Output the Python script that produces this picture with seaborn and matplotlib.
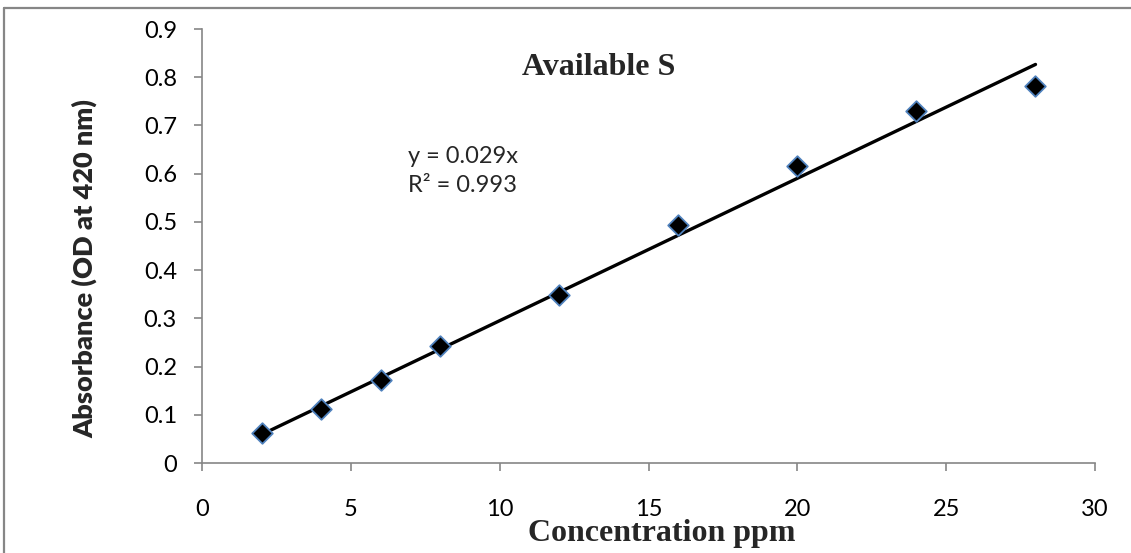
import numpy as np
import pandas as pd
import seaborn as sns
import matplotlib.pyplot as plt
from matplotlib.lines import Line2D

# standard curve readings
conc_ppm = [2, 4, 6, 8, 12, 16, 20, 24, 28]
absorbance = [0.062, 0.113, 0.172, 0.243, 0.349, 0.494, 0.615, 0.729, 0.781]
x_ticks = [0, 5, 10, 15, 20, 25, 30]
y_ticks = [0, 0.1, 0.2, 0.3, 0.4, 0.5, 0.6, 0.7, 0.8, 0.9]
eq_lines = ["y = 0.029x", "R² = 0.993"]

sns.set_theme(style="white")
plt.rcParams['font.family'] = ['Lato', 'DejaVu Sans']

df = pd.DataFrame({'conc': conc_ppm, 'od': absorbance})

# linear trend forced through zero
x = np.array(conc_ppm, dtype=float)
y = np.array(absorbance)
slope = np.sum(x * y) / np.sum(x * x)
fit = pd.DataFrame({'conc': [x.min(), x.max()], 'od': [slope * x.min(), slope * x.max()]})

fig = plt.figure(figsize=(11.31, 5.53), dpi=100)
ax = fig.add_axes([0.1786, 0.1627, 0.7896, 0.7848])

sns.lineplot(data=fit, x='conc', y='od', ax=ax, color='black', linewidth=2.4, zorder=2)
sns.scatterplot(data=df, x='conc', y='od', ax=ax, marker='D', s=110,
                color='black', edgecolor='#4f81bd', linewidth=1.3, zorder=3)

ax.set_xlim(0, 30)
ax.set_ylim(0, 0.9)
ax.set_xticks(x_ticks)
ax.set_xticklabels([str(t) for t in x_ticks])
ax.set_yticks(y_ticks)
ax.set_yticklabels(['0'] + [f'{t:.1f}' for t in y_ticks[1:]])

for side in ['top', 'right']:
    ax.spines[side].set_visible(False)
for side in ['left', 'bottom']:
    ax.spines[side].set_color('#868686')
    ax.spines[side].set_linewidth(1.2)

ax.tick_params(axis='both', direction='out', length=6, width=1.2, color='#868686',
               labelsize=17, labelcolor='black', left=True, bottom=True)
ax.tick_params(axis='x', pad=20)
ax.tick_params(axis='y', pad=12)

ax.set_xlabel('')
ax.set_ylabel('Absorbance (OD at 420 nm)', fontweight='heavy', fontsize=19.5)
ax.yaxis.label.set_va('center')
ax.yaxis.set_label_coords(-0.131, 0.447)

fig.text(662 / 1131, 12 / 553, 'Concentration ppm', ha='center', va='baseline',
         family='Liberation Serif', fontweight='bold', fontsize=23)
fig.text(599 / 1131, 1 - 75 / 553, 'Available S', ha='center', va='baseline',
         family='Liberation Serif', fontweight='bold', fontsize=23)

ax.text(6.92, 0.622, eq_lines[0], ha='left', va='baseline', fontsize=17)
ax.text(6.92, 0.562, eq_lines[1], ha='left', va='baseline', fontsize=17)

# chart outer frame (cropped on right and bottom)
fig.add_artist(Line2D([4 / 1131, 4 / 1131], [0, 1 - 8 / 553], transform=fig.transFigure,
                      color='#868686', linewidth=1.6))
fig.add_artist(Line2D([4 / 1131, 1], [1 - 8 / 553, 1 - 8 / 553], transform=fig.transFigure,
                      color='#868686', linewidth=1.6))

fig.savefig('out.png', dpi=100)
